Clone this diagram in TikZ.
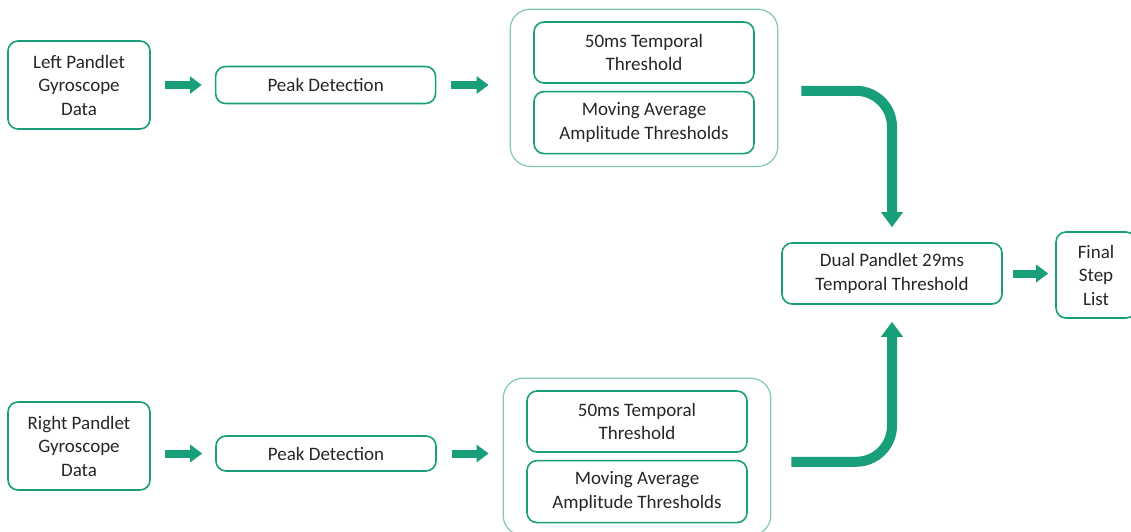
\documentclass[tikz,border=0pt]{standalone}
\usepackage{fontspec}
\setmainfont{Carlito}
\usetikzlibrary{arrows.meta, positioning, fit}

\definecolor{pgreen}{RGB}{24,158,120}
\definecolor{pgreenlight}{RGB}{128,200,178}
\definecolor{ptext}{RGB}{38,38,38}

\begin{document}
\begin{tikzpicture}[
        x=1pt, y=1pt,
        font=\fontsize{19}{23.5}\selectfont, text=ptext,
        box/.style={rectangle, draw=pgreen, line width=1.6pt, rounded corners=10pt, minimum width=220pt, inner sep=0pt, align=center},
        group/.style={rectangle, draw=pgreenlight, line width=1.2pt, rounded corners=20pt, inner xsep=23pt, inner ysep=12pt},
        flow/.style={draw=pgreen, line width=8pt, -{Triangle[length=12pt, width=17pt]}},
        turnarrow/.style={draw=pgreen, line width=10pt, rounded corners=36pt, -{Triangle[length=15pt, width=21pt]}}
    ]
        \useasboundingbox (0,0) rectangle (1131,-532);

        % Left pandlet branch
        \node[box, minimum width=142pt, minimum height=88pt] (ldata) at (79,-85) {Left Pandlet\\Gyroscope\\Data};
        \node[box, minimum height=37pt, right=64pt of ldata] (lpeak) {Peak Detection};
        \node[box, minimum height=61pt] (lthr) at (644,-52.5) {50ms Temporal\\Threshold};
        \node[box, minimum height=62pt, below=7pt of lthr] (lavg) {Moving Average\\Amplitude Thresholds};
        \node[group, fit=(lthr)(lavg)] (lgroup) {};

        \draw[flow] ([xshift=14pt]ldata.east) -- ([xshift=-13pt]lpeak.west);
        \draw[flow] ([xshift=15pt]lpeak.east) -- ([xshift=-21pt]lgroup.west |- lpeak.east);

        % Right pandlet branch
        \node[box, minimum width=142pt, minimum height=88pt] (rdata) at (79,-446) {Right Pandlet\\Gyroscope\\Data};
        \node[box, minimum height=35pt] (rpeak) at (326,-453.5) {Peak Detection};
        \node[box, minimum height=61pt] (rthr) at (637,-421.5) {50ms Temporal\\Threshold};
        \node[box, minimum height=62pt, below=7pt of rthr] (ravg) {Moving Average\\Amplitude Thresholds};
        \node[group, fit=(rthr)(ravg)] (rgroup) {};

        \draw[flow] ([xshift=14pt]rdata.east |- rpeak.west) -- ([xshift=-13pt]rpeak.west);
        \draw[flow] ([xshift=15pt]rpeak.east) -- ([xshift=-14pt]rgroup.west |- rpeak.east);

        % Merge
        \node[box, minimum height=61pt] (dual) at (892,-273.5) {Dual Pandlet 29ms\\Temporal Threshold};
        \node[box, minimum width=80pt, minimum height=86pt] (final) at (1096,-275) {Final\\Step\\List};

        \draw[turnarrow] ([xshift=23pt, yshift=-3pt]lgroup.east) -| ([yshift=15pt]dual.north);
        \draw[turnarrow] ([xshift=20pt, yshift=-5pt]rgroup.east) -| ([yshift=-17pt]dual.south);
        \draw[flow] ([xshift=10pt]dual.east) -- ([xshift=-7pt]final.west |- dual.east);

    \end{tikzpicture}
\end{document}
